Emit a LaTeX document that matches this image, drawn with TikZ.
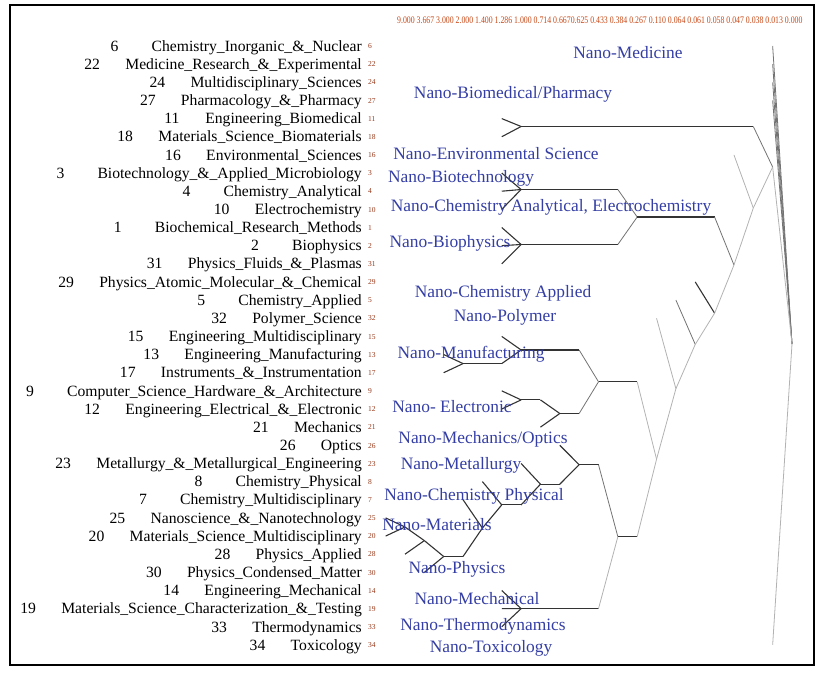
\documentclass[tikz,border=0pt]{standalone}
\usepackage{graphicx}
\usepackage{fontspec}
\setmainfont{Liberation Serif}
\usetikzlibrary{calc}
\definecolor{ThemeBlue}{RGB}{52, 62, 164}
\definecolor{ScaleOrange}{RGB}{200, 70, 20}
\definecolor{TagBrown}{RGB}{150, 55, 25}
\newcommand{\kx}{19.35}
% child -> parent: run level with the child, then slant into the parent
\newcommand{\branch}[3][deep]{%
  \draw[deep] let \p1=(#2), \p2=(#3) in (\p1) -- (\x2-19.35pt,\y1);
  \draw[#1] let \p1=(#2), \p2=(#3) in (\x2-19.35pt,\y1) -- (\p2);}
\tikzset{
  field/.style={anchor=base east, inner sep=0pt, font=\fontsize{15.65}{18}\selectfont},
  tag/.style={anchor=base west, inner sep=0pt, text=TagBrown, font=\fontsize{7.5}{8}\selectfont},
  theme/.style={anchor=base, inner sep=0pt, text=ThemeBlue, font=\fontsize{17.4}{20}\selectfont},
  deep/.style={draw=black!80, line width=1.1pt},
  soft/.style={draw=black!55, line width=0.8pt},
  pale/.style={draw=black!30, line width=0.8pt}
}

\begin{document}
\begin{tikzpicture}[x=1pt, y=-1pt]
      \useasboundingbox (0,0) rectangle (828,679);
      \draw[line width=1.2pt] (10,5) rectangle (814,665);

      % Joining levels
      \node[anchor=base west, inner sep=0pt, text=ScaleOrange, font=\fontsize{10}{12}\selectfont] (levels) at (397,23.5)
        {\scalebox{0.78}[1]{9.000 3.667 3.000 2.000 1.400 1.286 1.000 0.714 0.6670.625 0.433 0.384 0.267 0.110 0.064 0.061 0.058 0.047 0.038 0.013 0.000}};

      % Subject categories (id / name / level the leaf starts at)
      \foreach \sid/\stext/\sk [count=\i] in {
        6/Chemistry\_Inorganic\_\&\_Nuclear/19,
        22/Medicine\_Research\_\&\_Experimental/19,
        24/Multidisciplinary\_Sciences/19,
        27/Pharmacology\_\&\_Pharmacy/19,
        11/Engineering\_Biomedical/5,
        18/Materials\_Science\_Biomaterials/5,
        16/Environmental\_Sciences/17,
        3/Biotechnology\_\&\_Applied\_Microbiology/5,
        4/Chemistry\_Analytical/5,
        10/Electrochemistry/5,
        1/Biochemical\_Research\_Methods/5,
        2/Biophysics/5,
        31/Physics\_Fluids\_\&\_Plasmas/5,
        29/Physics\_Atomic\_Molecular\_\&\_Chemical/15,
        5/Chemistry\_Applied/14,
        32/Polymer\_Science/13,
        15/Engineering\_Multidisciplinary/5,
        13/Engineering\_Manufacturing/2,
        17/Instruments\_\&\_Instrumentation/2,
        9/Computer\_Science\_Hardware\_\&\_Architecture/5,
        12/Engineering\_Electrical\_\&\_Electronic/5,
        21/Mechanics/7,
        26/Optics/8,
        23/Metallurgy\_\&\_Metallurgical\_Engineering/6,
        8/Chemistry\_Physical/4,
        7/Chemistry\_Multidisciplinary/3,
        25/Nanoscience\_\&\_Nanotechnology/-1,
        20/Materials\_Science\_Multidisciplinary/-1,
        28/Physics\_Applied/0,
        30/Physics\_Condensed\_Matter/1,
        14/Engineering\_Mechanical/5,
        19/Materials\_Science\_Characterization\_\&\_Testing/5,
        33/Thermodynamics/5,
        34/Toxicology/19} {
        \pgfmathsetmacro{\ry}{46+(\i-1)*18.15}
        \node[field] (f\sid) at (362,\ry+5.2) {\makebox[41pt][l]{\sid}\stext};
        \node[tag] (g\sid) at (368,\ry+2.7) {\sid};
        \coordinate (s\sid) at ({405+\sk*\kx},\ry);
      }

      % Cluster joints
      \coordinate (mat) at ({405+0*\kx},527.0);
      \coordinate (matB) at ({405+1*\kx},540.6);
      \coordinate (phys) at ({405+2*\kx},556.5);
      \coordinate (manufsub) at ({405+3*\kx},363.6);
      \coordinate (chemmulti) at ({405+4*\kx},528.1);
      \coordinate (chemphys) at ({405+5*\kx},504.9);
      \coordinate (biomed) at ({405+6*\kx},126.5);
      \coordinate (biotech) at ({405+6*\kx},189.5);
      \coordinate (biophys) at ({405+6*\kx},244.5);
      \coordinate (manuf) at ({405+6*\kx},350.0);
      \coordinate (elec) at ({405+6*\kx},399.9);
      \coordinate (mechanical) at ({405+6*\kx},608.65);
      \coordinate (metal) at ({405+7*\kx},484.2);
      \coordinate (elecmech) at ({405+8*\kx},413.5);
      \coordinate (optics) at ({405+9*\kx},464.7);
      \coordinate (engblock) at ({405+10*\kx},381.8);
      \coordinate (lowblock) at ({405+11*\kx},536.7);
      \coordinate (bioblock) at ({405+12*\kx},217.0);
      \coordinate (engall) at ({405+13*\kx},459.2);
      \coordinate (polymer) at ({405+14*\kx},388.7);
      \coordinate (applied) at ({405+15*\kx},344.4);
      \coordinate (atomic) at ({405+16*\kx},313.2);
      \coordinate (midblock) at ({405+17*\kx},265.0);
      \coordinate (env) at ({405+18*\kx},208.0);
      \coordinate (medblock) at ({405+19*\kx},167.0);
      \coordinate (root) at ({405+20*\kx},344.0);

      % Branches
      \branch{s25}{mat} \branch{s20}{mat}
      \branch{mat}{matB} \branch{s28}{matB}
      \branch{matB}{phys} \branch{s30}{phys}
      \branch{s7}{chemmulti} \branch{phys}{chemmulti}
      \branch{s8}{chemphys} \branch{chemmulti}{chemphys}
      \branch{s23}{metal} \branch{chemphys}{metal}
      \branch{s26}{optics} \branch{metal}{optics}
      \branch{s14}{mechanical} \branch{s19}{mechanical} \branch{s33}{mechanical}
      \branch[soft]{optics}{lowblock} \branch[pale]{mechanical}{lowblock}
      \branch{s13}{manufsub} \branch{s17}{manufsub}
      \branch{s15}{manuf} \branch{manufsub}{manuf}
      \branch{s9}{elec} \branch{s12}{elec}
      \branch{elec}{elecmech} \branch{s21}{elecmech}
      \branch[soft]{manuf}{engblock} \branch[soft]{elecmech}{engblock}
      \branch[pale]{engblock}{engall} \branch[pale]{lowblock}{engall}
      \branch[pale]{s32}{polymer} \branch[pale]{engall}{polymer}
      \branch[soft]{s5}{applied} \branch[pale]{polymer}{applied}
      \branch{s29}{atomic} \branch[pale]{applied}{atomic}
      \branch{s3}{biotech} \branch{s4}{biotech} \branch{s10}{biotech}
      \branch{s1}{biophys} \branch{s2}{biophys} \branch{s31}{biophys}
      \branch[soft]{biotech}{bioblock} \branch[soft]{biophys}{bioblock}
      \branch[soft]{bioblock}{midblock} \branch[pale]{atomic}{midblock}
      \branch[pale]{s16}{env} \branch[pale]{midblock}{env}
      \branch{s11}{biomed} \branch{s18}{biomed}
      \branch[soft]{biomed}{medblock} \branch[pale]{env}{medblock}
      \branch[soft]{s6}{root} \branch[soft]{s22}{root} \branch[soft]{s24}{root} \branch[soft]{s27}{root}
      \branch[pale]{medblock}{root} \branch[pale]{s34}{root}

      % Nano themes
      \node[theme] (medicinetxt) at (628,59) {Nano-Medicine};
      \node[theme] (biomedtxt) at (513,99) {Nano-Biomedical/Pharmacy};
      \node[theme] (envtxt) at (496,160) {Nano-Environmental Science};
      \node[theme] (biotechtxt) at (461,183) {Nano-Biotechnology};
      \node[theme] (chemanatxt) at (551,212) {Nano-Chemistry Analytical, Electrochemistry};
      \node[theme] (biophystxt) at (450,248) {Nano-Biophysics};
      \node[theme] (appliedtxt) at (503,298) {Nano-Chemistry Applied};
      \node[theme] (polymertxt) at (505,322) {Nano-Polymer};
      \node[theme] (manuftxt) at (471,358) {Nano-Manufacturing};
      \node[theme] (electxt) at (452,412) {Nano- Electronic};
      \node[theme] (opticstxt) at (483,443) {Nano-Mechanics/Optics};
      \node[theme] (metaltxt) at (461,469) {Nano-Metallurgy};
      \node[theme] (chemphystxt) at (474,500) {Nano-Chemistry Physical};
      \node[theme] (mattxt) at (437,530) {Nano-Materials};
      \node[theme] (phystxt) at (457,573) {Nano-Physics};
      \node[theme] (mechtxt) at (477,604) {Nano-Mechanical};
      \node[theme] (thermotxt) at (483,630) {Nano-Thermodynamics};
      \node[theme] (toxtxt) at (491,652) {Nano-Toxicology};
\end{tikzpicture}
\end{document}
